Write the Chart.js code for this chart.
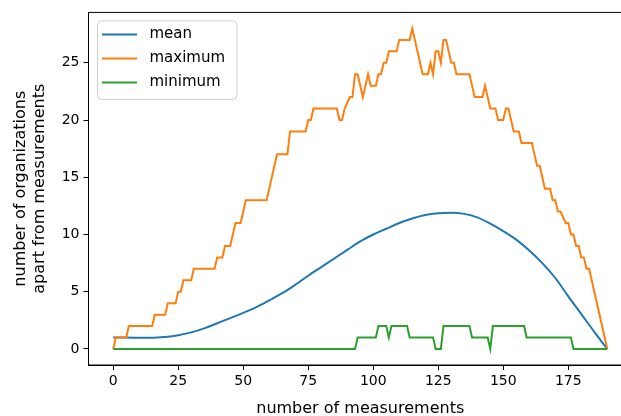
<!DOCTYPE html>
<html>
<head>
<meta charset="utf-8">
<script src="https://cdn.jsdelivr.net/npm/chart.js@4.4.0/dist/chart.umd.min.js"></script>
<style>
  html, body { margin: 0; padding: 0; background: #fff; overflow: hidden; }
</style>
</head>
<body>
<canvas id="orgChart" width="640" height="416"></canvas>
<script>
// mean curve, read every 5 measurements
const meanX = [0, 5, 10, 15, 20, 25, 30, 35, 40, 45, 50, 55, 60, 65, 70, 75, 80, 85, 90, 95,
  100, 105, 110, 115, 120, 125, 130, 135, 140, 145, 150, 155, 160, 165, 170, 175, 180, 185, 190];
const meanY = [1.0, 1.0, 0.97, 0.97, 1.05, 1.2, 1.45, 1.8, 2.25, 2.7, 3.15, 3.65, 4.25, 4.87, 5.6, 6.4, 7.15, 7.9, 8.65, 9.4,
  10.0, 10.5, 11.0, 11.4, 11.7, 11.85, 11.9, 11.8, 11.5, 10.95, 10.3, 9.55, 8.6, 7.5, 6.2, 4.6, 3.05, 1.5, 0];

// maximum: corner points of the step line
const maxX = [0, 1, 5, 6, 15, 16, 20, 21, 24, 25, 26, 27, 30, 31, 39, 40, 42, 43, 45, 46, 47, 49, 50, 51,
  59, 60, 61, 62, 63, 67, 68, 74, 75, 76, 77, 86, 87, 88, 89, 91, 92, 93, 94, 96, 98, 99, 101,
  102, 103, 104, 105, 106, 109, 110, 114, 115, 119, 121, 122, 123, 124, 125, 126, 127, 128, 130, 131,
  132, 137, 139, 142, 143, 145, 147, 148, 150, 151, 152, 154, 156, 157, 161, 162, 163, 164, 165, 166,
  168, 169, 170, 171, 172, 174, 175, 176, 177, 178, 179, 180, 181, 182, 183, 184, 190];
const maxY = [0, 1, 1, 2, 2, 3, 3, 4, 4, 5, 5, 6, 6, 7, 7, 8, 8, 9, 9, 10, 11, 11, 12, 13,
  13, 14, 15, 16, 17, 17, 19, 19, 20, 20, 21, 21, 20, 20, 21, 22, 22, 24, 24, 22, 24, 23, 23,
  24, 24, 25, 25, 26, 26, 27, 27, 28, 24, 24, 25, 24, 26, 26, 25, 27, 27, 25, 25,
  24, 24, 22, 22, 23, 21, 21, 20, 20, 21, 21, 19, 19, 18, 18, 17, 16, 16, 15, 14,
  14, 13, 13, 12, 12, 11, 11, 10, 10, 9, 9, 8, 8, 7, 7, 6, 0];

// minimum: corner points of the step line
const minX = [0, 93, 94, 101, 102, 105, 106, 107, 113, 114, 123, 124, 126, 127, 137, 138,
  144, 145, 146, 158, 159, 176, 177, 190];
const minY = [0, 0, 1, 1, 2, 2, 1, 2, 2, 1, 1, 0, 0, 2, 2, 1,
  1, 0, 2, 2, 1, 1, 0, 0];

const seriesNames = ['mean', 'maximum', 'minimum'];
const seriesColors = ['#1f77b4', '#ff7f0e', '#2ca02c'];
const xTicks = [0, 25, 50, 75, 100, 125, 150, 175];
const yTicks = [0, 5, 10, 15, 20, 25];

function points(xs, ys) {
  return xs.map((x, i) => ({ x: x, y: ys[i] }));
}

Chart.defaults.font.family = '"DejaVu Sans", sans-serif';
Chart.defaults.color = '#000';

// matplotlib-like top/right spines
const frame = {
  id: 'frame',
  afterDatasetsDraw(chart) {
    const { ctx, chartArea: a } = chart;
    ctx.save();
    ctx.strokeStyle = '#000';
    ctx.lineWidth = 1;
    ctx.strokeRect(a.left, a.top, a.right - a.left, a.bottom - a.top);
    ctx.restore();
  }
};

// legend box in the upper left corner
const legendBox = {
  id: 'legendBox',
  afterDraw(chart) {
    const { ctx, chartArea: a } = chart;
    const x0 = a.left + 9, y0 = a.top + 8.5, w = 139.5, h = 78.5, r = 4;
    ctx.save();
    ctx.beginPath();
    ctx.moveTo(x0 + r, y0);
    ctx.arcTo(x0 + w, y0, x0 + w, y0 + h, r);
    ctx.arcTo(x0 + w, y0 + h, x0, y0 + h, r);
    ctx.arcTo(x0, y0 + h, x0, y0, r);
    ctx.arcTo(x0, y0, x0 + w, y0, r);
    ctx.closePath();
    ctx.fillStyle = 'rgba(255,255,255,0.8)';
    ctx.fill();
    ctx.strokeStyle = '#d0d0d0';
    ctx.lineWidth = 1;
    ctx.stroke();
    ctx.font = '15px "DejaVu Sans"';
    ctx.textBaseline = 'middle';
    chart.data.datasets.forEach((ds, i) => {
      const y = y0 + 13.5 + i * 24;
      ctx.strokeStyle = ds.borderColor;
      ctx.lineWidth = 2;
      ctx.beginPath();
      ctx.moveTo(x0 + 4.5, y);
      ctx.lineTo(x0 + 39.5, y);
      ctx.stroke();
      ctx.fillStyle = '#000';
      ctx.fillText(ds.label, x0 + 52, y);
    });
    ctx.restore();
  }
};

const ctx = document.getElementById('orgChart').getContext('2d');
new Chart(ctx, {
  type: 'line',
  data: {
    datasets: [
      { label: seriesNames[0], data: points(meanX, meanY), borderColor: seriesColors[0],
        cubicInterpolationMode: 'monotone', order: 3 },
      { label: seriesNames[1], data: points(maxX, maxY), borderColor: seriesColors[1], order: 2 },
      { label: seriesNames[2], data: points(minX, minY), borderColor: seriesColors[2], order: 1 }
    ]
  },
  options: {
    responsive: false,
    animation: false,
    devicePixelRatio: 1,
    layout: { padding: { top: 10.5, right: 8, left: 0, bottom: 0 } },
    elements: {
      line: { borderWidth: 2, fill: false, tension: 0 },
      point: { radius: 0, hoverRadius: 0 }
    },
    plugins: { legend: { display: false }, tooltip: { enabled: false } },
    scales: {
      x: {
        type: 'linear',
        min: -9.5,
        max: 199.5,
        afterBuildTicks: (scale) => { scale.ticks = xTicks.map(v => ({ value: v })); },
        afterFit: (scale) => { scale.height = 51; },
        grid: { drawOnChartArea: false, drawTicks: true, tickLength: 5, color: '#000' },
        border: { display: true, color: '#000', width: 1 },
        ticks: { padding: 3, font: { size: 14 }, maxRotation: 0, color: '#000' },
        title: { display: true, text: 'number of measurements', font: { size: 16 }, color: '#000',
          padding: { top: 0, bottom: -2 } }
      },
      y: {
        type: 'linear',
        min: -1.4,
        max: 29.4,
        afterBuildTicks: (scale) => { scale.ticks = yTicks.map(v => ({ value: v })); },
        afterFit: (scale) => { scale.width = 88.5; },
        grid: { drawOnChartArea: false, drawTicks: true, tickLength: 5, color: '#000' },
        border: { display: true, color: '#000', width: 1 },
        ticks: { padding: 4, font: { size: 14 }, color: '#000' },
        title: { display: true, text: ['number of organizations', 'apart from measurements'],
          font: { size: 16 }, color: '#000', padding: { top: 11, bottom: 0 } }
      }
    }
  },
  plugins: [frame, legendBox]
});
</script>
</body>
</html>
